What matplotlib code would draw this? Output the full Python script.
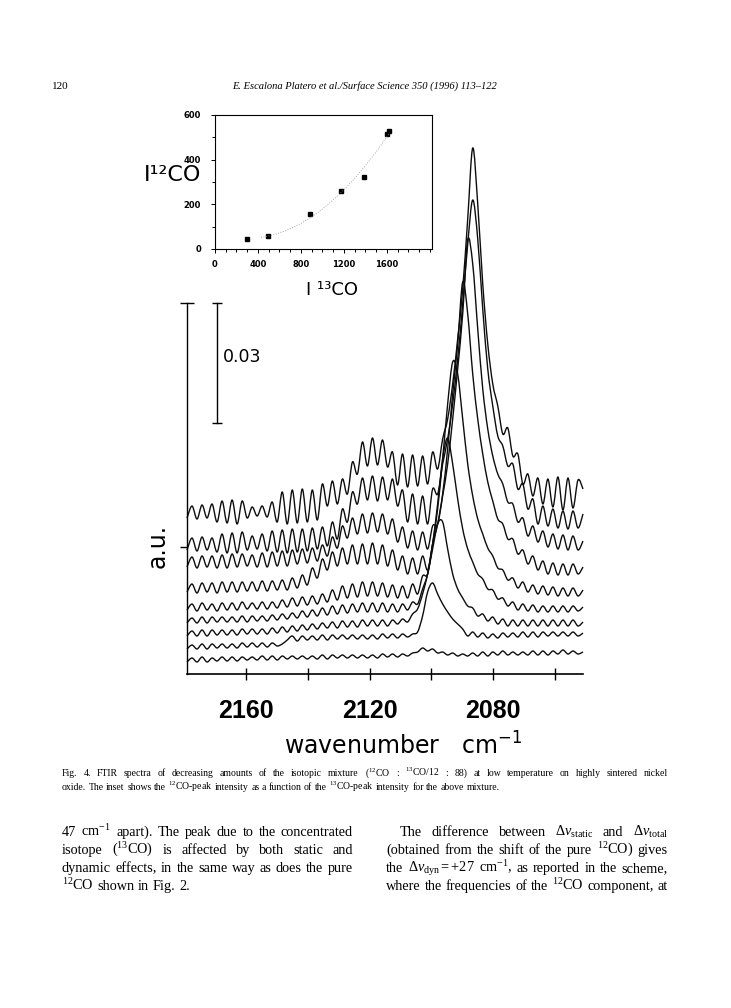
import numpy as np
import matplotlib
matplotlib.use('Agg')
import matplotlib.pyplot as plt
from matplotlib.ticker import MultipleLocator
from matplotlib.transforms import blended_transform_factory
from matplotlib.path import Path
from matplotlib.patches import PathPatch

plt.rcParams['mathtext.fontset'] = 'custom'
plt.rcParams['mathtext.rm'] = 'Liberation Serif'
plt.rcParams['mathtext.it'] = 'Liberation Serif:italic'
plt.rcParams['mathtext.bf'] = 'Liberation Serif:bold'

# ---- data ----
# wavenumber grid (cm-1), one point per fringe half-period
wavenumber = np.linspace(2179.2, 2050.9, 80)
UNIT = 0.25e-3   # spectra below are in units of 0.25e-3 absorbance above the axis line

# spectra from the highest coverage (top) to the lowest (bottom)
spec_1 = [156, 168, 155, 169, 156, 170, 152, 173, 151, 174,
          150, 173, 156, 167, 158, 168, 157, 172, 152, 182,
          150, 184, 151, 185, 152, 184, 154, 190, 168, 193,
          170, 195, 180, 212, 200, 232, 208, 236, 209, 234,
          207, 222, 189, 220, 187, 219, 188, 218, 190, 222,
          205, 235, 255, 290, 335, 385, 455, 526, 470, 390,
          330, 290, 268, 240, 246, 218, 220, 190, 200, 178,
          196, 170, 195, 167, 197, 164, 196, 166, 194, 185]
spec_2 = [124, 136, 123, 137, 124, 136, 122, 140, 121, 141,
          121, 142, 124, 138, 125, 140, 123, 143, 122, 144,
          121, 145, 122, 145, 123, 146, 125, 147, 128, 152,
          135, 165, 152, 182, 170, 196, 174, 198, 173, 197,
          174, 195, 168, 184, 152, 180, 150, 178, 150, 185,
          180, 210, 235, 270, 315, 370, 430, 474, 435, 365,
          305, 268, 238, 228, 208, 210, 185, 190, 165, 175,
          150, 168, 148, 165, 146, 163, 145, 163, 146, 160]
spec_3 = [107, 117, 106, 118, 107, 118, 106, 119, 106, 120,
          107, 120, 108, 119, 107, 121, 107, 122, 108, 123,
          108, 124, 110, 125, 111, 126, 113, 129, 118, 137,
          126, 148, 136, 156, 140, 160, 141, 161, 142, 160,
          140, 155, 132, 147, 126, 143, 124, 142, 125, 148,
          150, 178, 210, 255, 305, 360, 434, 410, 345, 285,
          245, 218, 200, 190, 172, 170, 152, 156, 138, 148,
          132, 143, 127, 140, 125, 139, 124, 138, 124, 133]
spec_4 = [82, 90, 81, 91, 82, 91, 81, 92, 82, 92,
          82, 92, 83, 92, 83, 93, 83, 93, 84, 94,
          84, 96, 86, 99, 89, 106, 96, 115, 104, 122,
          108, 126, 110, 129, 110, 130, 110, 131, 110, 129,
          108, 124, 104, 118, 100, 116, 100, 118, 104, 130,
          150, 180, 225, 280, 330, 392, 360, 300, 255, 220,
          192, 173, 155, 150, 135, 135, 120, 124, 110, 118,
          104, 113, 100, 111, 99, 110, 99, 110, 100, 107]
spec_5 = [64, 70, 63, 71, 64, 70, 63, 71, 64, 71,
          64, 72, 65, 71, 65, 72, 65, 72, 66, 74,
          67, 76, 68, 77, 69, 78, 70, 80, 72, 84,
          74, 88, 76, 90, 77, 92, 78, 92, 78, 91,
          77, 89, 76, 88, 76, 90, 80, 98, 100, 130,
          165, 215, 270, 312, 300, 255, 210, 178, 155, 140,
          126, 118, 106, 104, 94, 96, 86, 92, 82, 89,
          80, 88, 79, 87, 78, 86, 78, 86, 78, 84]
spec_6 = [51, 56, 51, 57, 51, 57, 52, 57, 52, 57,
          52, 58, 52, 58, 53, 58, 53, 59, 54, 60,
          55, 61, 56, 63, 57, 64, 58, 66, 59, 68,
          60, 69, 61, 70, 62, 71, 62, 71, 62, 71,
          62, 70, 62, 70, 64, 72, 70, 85, 100, 130,
          170, 215, 236, 210, 175, 145, 125, 112, 100, 95,
          85, 84, 75, 76, 68, 72, 64, 70, 63, 69,
          62, 68, 62, 68, 62, 68, 62, 68, 63, 67]
spec_7 = [38, 43, 38, 44, 38, 44, 39, 44, 39, 44,
          39, 45, 40, 45, 40, 45, 40, 46, 41, 47,
          42, 48, 43, 49, 44, 50, 45, 51, 46, 52,
          46, 53, 47, 53, 47, 54, 48, 54, 48, 54,
          48, 54, 50, 55, 52, 60, 65, 80, 100, 125,
          150, 152, 125, 100, 85, 76, 68, 66, 58, 60,
          53, 57, 50, 55, 48, 54, 48, 54, 48, 54,
          48, 54, 48, 54, 48, 54, 48, 54, 48, 52]
spec_8 = [25, 29, 25, 30, 25, 30, 26, 30, 26, 30,
          26, 31, 27, 31, 27, 31, 27, 31, 28, 30,
          34, 38, 33, 38, 34, 38, 34, 39, 34, 39,
          35, 39, 35, 39, 35, 39, 35, 39, 35, 40,
          36, 40, 36, 40, 37, 40, 42, 58, 82, 91,
          80, 70, 62, 55, 50, 45, 38, 42, 37, 41,
          36, 40, 36, 41, 37, 41, 37, 42, 37, 42,
          37, 42, 38, 42, 38, 42, 38, 42, 38, 41]
spec_9 = [12, 16, 12, 17, 12, 16, 13, 17, 13, 17,
          13, 17, 14, 17, 14, 18, 14, 18, 14, 18,
          15, 18, 15, 18, 15, 18, 15, 19, 15, 19,
          16, 19, 16, 19, 16, 19, 16, 19, 16, 20,
          17, 20, 17, 20, 18, 21, 22, 26, 23, 25,
          21, 22, 19, 21, 18, 20, 18, 21, 18, 22,
          18, 22, 19, 23, 19, 22, 19, 22, 19, 23,
          19, 23, 19, 23, 20, 24, 20, 23, 20, 22]
spectra = [spec_1, spec_2, spec_3, spec_4, spec_5, spec_6, spec_7, spec_8, spec_9]

SCALE_BAR = 0.03
xticks = [2160, 2140, 2120, 2100, 2080, 2060]
xtick_labels = ['2160', '', '2120', '', '2080', '']

# inset: 12CO peak intensity vs 13CO peak intensity
i13co = [295, 496, 884, 1169, 1386, 1603, 1622]
i12co = [43, 58, 155, 261, 322, 517, 528]

header_page = '120'
header_title = 'E. Escalona Platero et al./Surface Science 350 (1996) 113\u2013122'
caption = ['Fig. 4.  FTIR spectra of decreasing amounts of the isotopic mixture ($^{12}$CO : $^{13}$CO/12 : 88) at low temperature on highly sintered nickel',
           'oxide. The inset shows the $^{12}$CO-peak intensity as a function of the $^{13}$CO-peak intensity for the above mixture.']
left_col = ['47 cm$^{-1}$ apart). The peak due to the concentrated',
            'isotope ($^{13}$CO) is affected by both static and',
            'dynamic effects, in the same way as does the pure',
            '$^{12}$CO shown in Fig. 2.']
right_col = [r'The difference between $\mathit{\Delta\nu}_{\mathrm{static}}$ and $\mathit{\Delta\nu}_{\mathrm{total}}$',
             '(obtained from the shift of the pure $^{12}$CO) gives',
             r'the $\mathit{\Delta\nu}_{\mathrm{dyn}}=+27$ cm$^{-1}$, as reported in the scheme,',
             'where the frequencies of the $^{12}$CO component, at']

W, H = 731, 1008
fig = plt.figure(figsize=(7.31, 10.08), dpi=100)


def fx(px):
    return px / W


def fy(py):
    return 1 - py / H


def smooth_path(x, y):
    # Catmull-Rom style bezier through the read points (drawing style only)
    n = len(x)
    verts = [(x[0], y[0])]
    codes = [Path.MOVETO]
    for i in range(n - 1):
        a = max(i - 1, 0)
        d = min(i + 2, n - 1)
        c1 = (x[i] + (x[i + 1] - x[a]) / 6, y[i] + (y[i + 1] - y[a]) / 6)
        c2 = (x[i + 1] - (x[d] - x[i]) / 6, y[i + 1] - (y[d] - y[i]) / 6)
        verts += [c1, c2, (x[i + 1], y[i + 1])]
        codes += [Path.CURVE4] * 3
    return Path(verts, codes)


# ---- main waterfall of spectra ----
ax = fig.add_axes([fx(187), fy(674), fx(583) - fx(187), fy(130) - fy(674)])
for s in spectra:
    ax.add_patch(PathPatch(smooth_path(wavenumber, np.array(s) * UNIT), fill=False,
                           edgecolor='#0d0d0d', lw=1.0, joinstyle='round', clip_on=False))
ax.set_xlim(2179.2, 2050.9)
ax.set_ylim(0, 544 * UNIT)
ax.spines['top'].set_visible(False)
ax.spines['right'].set_visible(False)
top_au = 371 * UNIT
ax.spines['left'].set_bounds(0, top_au)
ax.spines['left'].set_linewidth(1.0)
ax.spines['bottom'].set_linewidth(1.2)
ax.set_xticks(xticks)
ax.set_xticklabels(xtick_labels)
ax.tick_params(axis='x', direction='inout', length=8, width=1.0, pad=14)
for lab in ax.get_xticklabels():
    lab.set_fontsize(18)
    lab.set_fontweight('bold')
    lab.set_family('Liberation Sans')
ax.set_yticks([127 * UNIT])
ax.set_yticklabels([])
ax.tick_params(axis='y', direction='out', length=5, width=1.0)

btr = blended_transform_factory(ax.transAxes, ax.transData)
ax.plot([0], [top_au], marker='_', ms=10, mew=1.0, color='k', transform=btr, clip_on=False)
# 0.03 absorbance scale bar
xb = 0.0758
ax.plot([xb, xb], [top_au - SCALE_BAR, top_au], color='k', lw=1.0, transform=btr,
        marker='_', ms=7, mew=1.0, clip_on=False)
ax.text(xb + 0.015, top_au - SCALE_BAR * 0.45, '0.03', transform=btr, ha='left',
        va='center', fontsize=12.5, family='DejaVu Sans')

fig.text(fx(158), fy(546), 'a.u.', rotation=90, ha='center', va='center',
         fontsize=17, family='DejaVu Sans')
fig.text(fx(403), fy(755), 'wavenumber   cm$^{-1}$', ha='center', va='baseline',
         fontsize=17, family='DejaVu Sans', math_fontfamily='dejavusans')

# ---- inset ----
axi = fig.add_axes([fx(215), fy(249), fx(432) - fx(215), fy(115) - fy(249)])
axi.plot(i13co, i12co, 's', ms=2.4, color='k')
fit = np.polyfit(i13co, i12co, 2)
xf = np.linspace(430, 1620, 60)
axi.plot(xf, np.polyval(fit, xf), ls=(0, (1, 2)), lw=0.6, color='0.55')
axi.set_xlim(0, 2020)
axi.set_ylim(0, 600)
axi.set_xticks([0, 400, 800, 1200, 1600])
axi.set_yticks([0, 200, 400, 600])
axi.xaxis.set_minor_locator(MultipleLocator(100))
axi.yaxis.set_minor_locator(MultipleLocator(100))
axi.tick_params(which='both', direction='out', width=0.7)
axi.tick_params(which='major', length=3)
axi.tick_params(which='minor', length=2)
axi.tick_params(axis='y', pad=7)
axi.tick_params(axis='x', pad=5)
for lab in axi.get_xticklabels() + axi.get_yticklabels():
    lab.set_fontsize(6)
    lab.set_fontweight('bold')
for sp in axi.spines.values():
    sp.set_linewidth(0.8)
fig.text(fx(201), fy(175), 'I\u00b9\u00b2CO', ha='right', va='center', fontsize=16,
         family='DejaVu Sans')
fig.text(fx(332), fy(290), 'I \u00b9\u00b3CO', ha='center', va='center', fontsize=13,
         family='DejaVu Sans')

# ---- page text ----
renderer = fig.canvas.get_renderer()


def text_line(line, x0, x1, y, size, justify=True, **kw):
    words = line.split()
    items = [fig.text(0, fy(y), w, fontsize=size, family='Liberation Serif',
                      va='baseline', **kw) for w in words]
    widths = [t.get_window_extent(renderer).width for t in items]
    if justify and len(items) > 1:
        gap = (x1 - x0 - sum(widths)) / (len(items) - 1)
    else:
        gap = size * 100 / 72 * 0.25
    x = x0
    for t, w in zip(items, widths):
        t.set_x(fx(x))
        x += w + gap


fig.text(fx(52), fy(89), header_page, family='Liberation Serif', fontsize=8, va='baseline')
fig.text(fx(365), fy(89), header_title, family='Liberation Serif', style='italic',
         fontsize=7.6, ha='center', va='baseline')

text_line(caption[0], 62, 668, 776, 7.0)
text_line(caption[1], 62, 668, 790, 7.0, justify=False)

for k, line in enumerate(left_col):
    text_line(line, 62, 353, 836 + 18 * k, 10.3, justify=(k < 3))
for k, line in enumerate(right_col):
    text_line(line, 400 if k == 0 else 386, 668, 836 + 18 * k, 10.3)

fig.savefig('out.png', dpi=100)
